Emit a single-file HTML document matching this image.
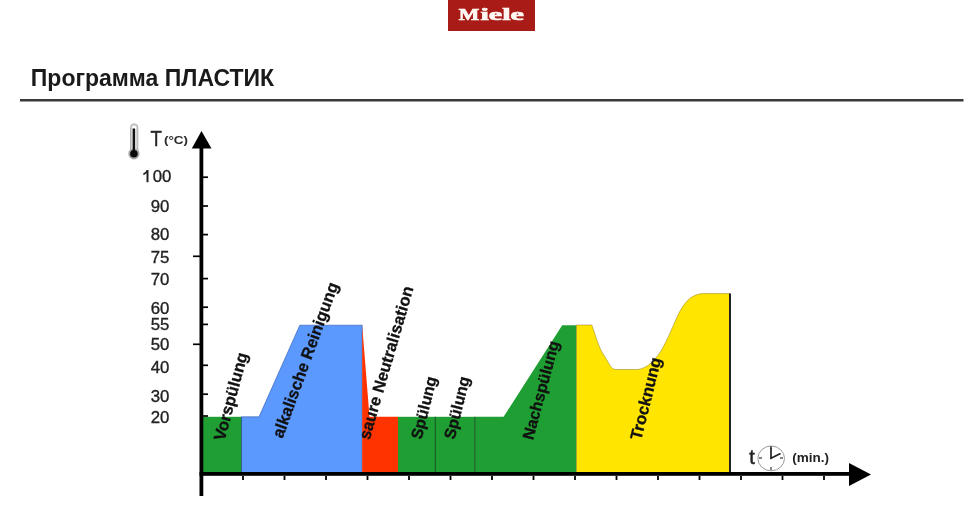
<!DOCTYPE html>
<html>
<head>
<meta charset="utf-8">
<style>
html,body{margin:0;padding:0;background:#fff;}
body{width:979px;height:525px;overflow:hidden;position:relative;font-family:"Liberation Sans",sans-serif;}
svg{position:absolute;left:0;top:0;will-change:transform;filter:blur(0.45px);}
</style>
</head>
<body>
<svg width="979" height="525" viewBox="0 0 979 525">
  <!-- Miele logo -->
  <rect x="448" y="0" width="87" height="31" fill="#a91b17"/>
  <g font-family="Liberation Serif" font-weight="bold" fill="#fff8f2" stroke="#fff8f2" stroke-width="0.7">
    <text x="458.8" y="19.7" font-size="16" textLength="20.5" lengthAdjust="spacingAndGlyphs">M</text>
    <text x="480.5" y="19.7" font-size="17" textLength="43.5" lengthAdjust="spacingAndGlyphs">iele</text>
  </g>

  <!-- Title -->
  <text x="30.8" y="85.5" font-family="Liberation Sans" font-weight="bold" font-size="23" fill="#1a1a1a">Программа ПЛАСТИК</text>
  <rect x="20" y="99" width="943.5" height="2.5" fill="#3a3a3a"/>

  <!-- thermometer -->
  <rect x="130.6" y="123.8" width="7.2" height="32" rx="3.6" fill="#d6d6d6" stroke="#b0b0b0" stroke-width="1"/>
  <ellipse cx="134.2" cy="127.5" rx="2" ry="1.8" fill="#fff"/>
  <circle cx="133.9" cy="153.8" r="5.6" fill="#a8a8a8"/>
  <rect x="132.7" y="128.5" width="2.3" height="25" fill="#111"/>
  <circle cx="133.9" cy="153.8" r="3.8" fill="#0a0a0a"/>

  <!-- T (°C) -->
  <text x="150.6" y="146.4" font-family="Liberation Sans" font-size="21.5" fill="#2a2a2a" stroke="#2a2a2a" stroke-width="0.5" textLength="11.3" lengthAdjust="spacingAndGlyphs">T</text>
  <text x="164" y="144.3" font-family="Liberation Sans" font-weight="bold" font-size="11" fill="#2a2a2a" textLength="24" lengthAdjust="spacingAndGlyphs">(°C)</text>

  <!-- y axis labels -->
  <g font-family="Liberation Sans" font-size="16.8" fill="#222" stroke="#222" stroke-width="0.35" text-anchor="end">
    <text x="171.3" y="182.4">00</text>
    <path d="M147.5,170.2 L147.5,182.2" fill="none" stroke-width="2"/>
    <path d="M143.4,174.4 C145.2,173.6 146.8,172.3 147.6,170.4" fill="none" stroke-width="1.7"/>
    <text x="169.3" y="212">90</text>
    <text x="169.3" y="240.3">80</text>
    <text x="169.3" y="263">75</text>
    <text x="169.3" y="284.8">70</text>
    <text x="169.3" y="314.3">60</text>
    <text x="169.3" y="329.8">55</text>
    <text x="169.3" y="350.1">50</text>
    <text x="169.3" y="372.6">40</text>
    <text x="169.3" y="401.6">30</text>
    <text x="169.3" y="422.8">20</text>
  </g>

  <!-- colored areas -->
  <rect x="203" y="416.8" width="38.5" height="56.7" fill="#1f9f33"/>
  <path d="M241.5,473.5 L241.5,416.8 L259,416.8 L299.8,325.2 L362.2,325.2 L362.2,473.5 Z" fill="#5b99ff" stroke="#2d55a8" stroke-width="0.6"/>
  <path d="M362.2,473.5 L362.2,325.2 L369.5,416.8 L398,416.8 L398,473.5 Z" fill="#ff3300"/>
  <rect x="398" y="416.8" width="76.5" height="56.7" fill="#1f9f33"/>
  <path d="M474.5,473.5 L474.5,416.8 L503.6,416.8 L562.2,325.2 L576.5,325.2 L576.5,473.5 Z" fill="#1f9f33"/>
  <path d="M576.5,473.5 L576.5,325 L591.8,325 C595,333 598,347 605,357 C609,363 611,369.5 616,369.5 L638,369.5 C648,368 655,360 661,351 C667,341 672,328 678,315 C684,303 690,295 702,293.6 L730,293.6 L730,473.5 Z" fill="#ffe500" stroke="#8a7a20" stroke-width="0.5"/>
  <line x1="435.3" y1="416.8" x2="435.3" y2="473.5" stroke="#17501f" stroke-width="1"/>
  <line x1="474.8" y1="416.8" x2="474.8" y2="473.5" stroke="#17501f" stroke-width="1"/>
  <line x1="241.5" y1="416.8" x2="241.5" y2="473.5" stroke="#2a5a80" stroke-width="0.8"/>
  <line x1="730" y1="293.6" x2="730" y2="473.5" stroke="#222" stroke-width="2"/>

  <!-- y axis -->
  <rect x="199.5" y="145" width="3.8" height="351" fill="#000"/>
  <path d="M201.5,131 L211.5,148.5 L191.8,148.5 Z" fill="#000"/>
  <g stroke="#000" stroke-width="1.7">
    <line x1="203" y1="177.2" x2="208" y2="177.2"/>
    <line x1="203" y1="206" x2="208" y2="206"/>
    <line x1="203" y1="234.6" x2="208" y2="234.6"/>
    <line x1="193" y1="256.3" x2="200" y2="256.3"/>
    <line x1="203" y1="278.6" x2="208" y2="278.6"/>
    <line x1="203" y1="307.2" x2="208" y2="307.2"/>
    <line x1="203" y1="324.4" x2="208" y2="324.4"/>
    <line x1="193" y1="344.3" x2="200" y2="344.3"/>
    <line x1="203" y1="365.3" x2="208" y2="365.3"/>
    <line x1="203" y1="394.2" x2="208" y2="394.2"/>
    <line x1="203" y1="416" x2="208" y2="416"/>
  </g>

  <!-- x axis -->
  <rect x="199.5" y="472" width="652" height="3.8" fill="#000"/>
  <path d="M871,474.5 L849,463 L849,486 Z" fill="#000"/>
  <g stroke="#000" stroke-width="1.8">
    <line x1="243.0" y1="476" x2="243.0" y2="480"/>
    <line x1="284.5" y1="476" x2="284.5" y2="480"/>
    <line x1="326.0" y1="476" x2="326.0" y2="480"/>
    <line x1="367.5" y1="476" x2="367.5" y2="480"/>
    <line x1="409.0" y1="476" x2="409.0" y2="480"/>
    <line x1="450.5" y1="476" x2="450.5" y2="480"/>
    <line x1="492.0" y1="476" x2="492.0" y2="480"/>
    <line x1="533.5" y1="476" x2="533.5" y2="480"/>
    <line x1="575.0" y1="476" x2="575.0" y2="480"/>
    <line x1="616.5" y1="476" x2="616.5" y2="480"/>
    <line x1="658.0" y1="476" x2="658.0" y2="480"/>
    <line x1="699.5" y1="476" x2="699.5" y2="480"/>
    <line x1="741.0" y1="476" x2="741.0" y2="480"/>
    <line x1="782.5" y1="476" x2="782.5" y2="480"/>
    <line x1="824.0" y1="476" x2="824.0" y2="480"/>
  </g>

  <!-- t clock (min.) -->
  <text x="749.2" y="463.5" font-family="Liberation Sans" font-size="20" fill="#222" stroke="#222" stroke-width="0.5">t</text>
  <ellipse cx="771.2" cy="458.4" rx="13.3" ry="12.4" fill="#fff" stroke="#999" stroke-width="1"/>
  <g stroke="#333" stroke-width="1.2">
    <line x1="771" y1="446" x2="771" y2="449"/>
    <line x1="771" y1="467" x2="771" y2="470"/>
    <line x1="759" y1="458" x2="762" y2="458"/>
    <line x1="780" y1="458" x2="783" y2="458"/>
  </g>
  <g stroke="#222" stroke-width="1.7" stroke-linecap="round">
    <line x1="771" y1="458.3" x2="771" y2="448"/>
    <line x1="771" y1="458.3" x2="780" y2="453.8"/>
  </g>
  <text x="792.2" y="461.8" font-family="Liberation Sans" font-weight="bold" font-size="13.5" fill="#222">(min.)</text>

  <!-- rotated labels -->
  <g font-family="Liberation Sans" font-weight="bold" font-size="16.5" fill="#111" stroke="#111" stroke-width="0.3">
    <text transform="translate(224.5,441.5) rotate(-75)">Vorspülung</text>
    <text transform="translate(282.5,439) rotate(-70)">alkalische Reinigung</text>
    <text transform="translate(369.4,440.5) rotate(-73.8)">saure Neutralisation</text>
    <text transform="translate(421.5,440) rotate(-76)" font-size="16">Spülung</text>
    <text transform="translate(454.5,440) rotate(-76)" font-size="16">Spülung</text>
    <text transform="translate(533,440.5) rotate(-75)" font-size="16">Nachspülung</text>
    <text transform="translate(641,440.8) rotate(-76)">Trocknung</text>
  </g>
</svg>
</body>
</html>
